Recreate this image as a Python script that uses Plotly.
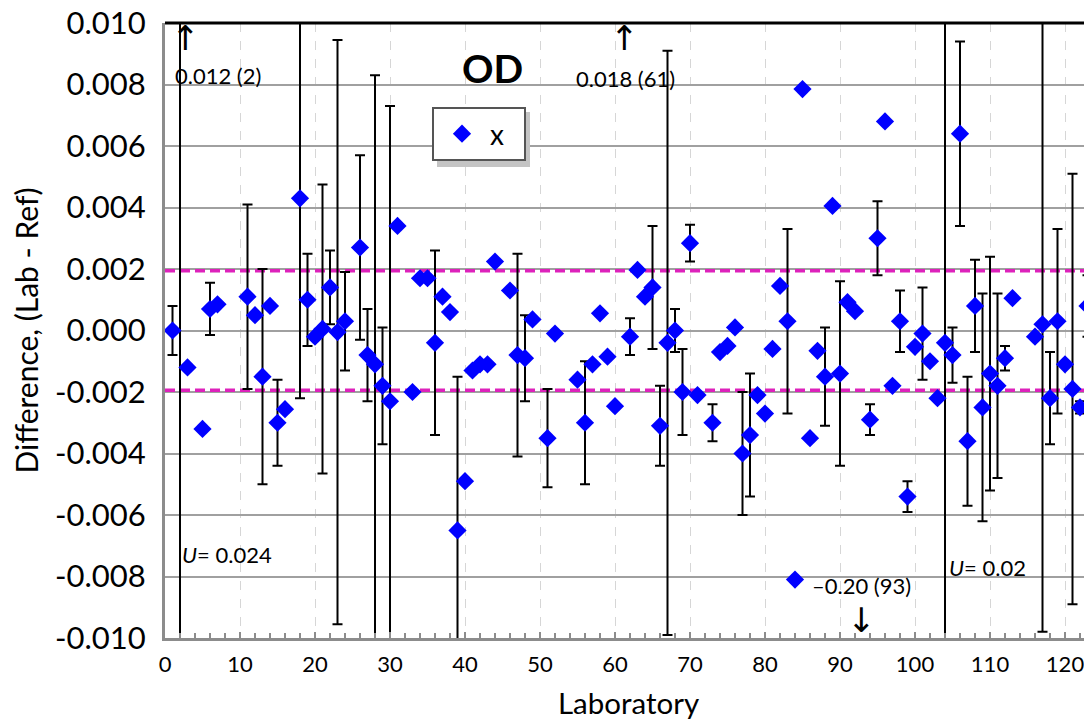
import plotly.graph_objects as go

# ---- data ----
labs = [1, 2, 3, 5, 6, 7, 11, 12, 13, 14, 15, 16, 18, 19, 20, 21, 22, 23, 24, 26,
        27, 28, 29, 30, 31, 33, 34, 35, 36, 37, 38, 39, 40, 41, 42, 43, 44, 46, 47, 48,
        49, 51, 52, 55, 56, 57, 58, 59, 60, 61, 62, 63, 64, 65, 66, 67, 68, 69, 70, 71,
        73, 74, 75, 76, 77, 78, 79, 80, 81, 82, 83, 84, 85, 86, 87, 88, 89, 90, 91, 92,
        93, 94, 95, 96, 97, 98, 99, 100, 101, 102, 103, 104, 105, 106, 107, 108, 109, 110, 111, 112,
        113, 116, 117, 118, 119, 120, 121, 122, 123]
diff = [0.0000, 0.012, -0.0012, -0.0032, 0.0007, 0.00085, 0.0011, 0.0005, -0.0015, 0.0008,
        -0.0030, -0.00256, 0.0043, 0.0010, -0.0002, 0.00005, 0.0014, -0.00005, 0.0003, 0.0027,
        -0.0008, -0.0011, -0.0018, -0.0023, 0.0034, -0.0020, 0.0017, 0.0017, -0.0004, 0.0011,
        0.0006, -0.0065, -0.0049, -0.0013, -0.0011, -0.0011, 0.00224, 0.0013, -0.0008, -0.0009,
        0.00036, -0.0035, -0.0001, -0.0016, -0.0030, -0.0011, 0.00056, -0.00085, -0.00246, 0.018,
        -0.0002, 0.00197, 0.0011, 0.0014, -0.0031, -0.0004, 0.0000, -0.0020, 0.00284, -0.0021,
        -0.0030, -0.0007, -0.0005, 0.0001, -0.0040, -0.0034, -0.0021, -0.0027, -0.0006, 0.00145,
        0.0003, -0.0081, 0.00785, -0.0035, -0.00066, -0.0015, 0.00405, -0.0014, 0.00092, 0.00063,
        -0.20, -0.0029, 0.0030, 0.0068, -0.0018, 0.0003, -0.0054, -0.00053, -0.0001, -0.0010,
        -0.0022, -0.0004, -0.0008, 0.0064, -0.0036, 0.0008, -0.0025, -0.0014, -0.0018, -0.0009,
        0.00105, -0.0002, 0.0002, -0.0022, 0.0003, -0.0011, -0.0019, -0.0025, 0.0008]
unc = [0.0008, 0.024, 0, 0, 0.00085, 0, 0.003, 0, 0.0035, 0,
       0.0014, 0, 0.0065, 0.0015, 0, 0.0047, 0.0012, 0.0095, 0.0016, 0.003,
       0.0015, 0.0094, 0.0019, 0.0096, 0, 0, 0, 0, 0.003, 0,
       0, 0.005, 0, 0, 0, 0, 0, 0, 0.0033, 0.0014,
       0, 0.0016, 0, 0, 0.002, 0, 0, 0, 0, 0,
       0.0006, 0, 0, 0.002, 0.0013, 0.0095, 0.0007, 0.0014, 0.0006, 0,
       0.0006, 0, 0, 0, 0.002, 0.002, 0, 0, 0, 0,
       0.003, 0, 0, 0, 0, 0.0016, 0, 0.003, 0, 0,
       0, 0.0005, 0.0012, 0, 0, 0.001, 0.0005, 0, 0.0015, 0,
       0, 0.02, 0.0009, 0.003, 0.0021, 0.0015, 0.0037, 0.0038, 0.003, 0.0004,
       0, 0, 0.01, 0.0015, 0.003, 0, 0.007, 0.0002, 0.001]
limit = 0.00194
y_ticks = [0.010, 0.008, 0.006, 0.004, 0.002, 0.000, -0.002, -0.004, -0.006, -0.008, -0.010]
y_tick_labels = ["0.010", "0.008", "0.006", "0.004", "0.002", "0.000",
                 "-0.002", "-0.004", "-0.006", "-0.008", "-0.010"]
x_ticks = [0, 10, 20, 30, 40, 50, 60, 70, 80, 90, 100, 110, 120]

FONT = "Lato"

fig = go.Figure()

# limit lines
for lv in (limit, -limit):
    fig.add_trace(go.Scatter(
        x=[0, 130], y=[lv, lv], mode="lines", showlegend=False, hoverinfo="skip",
        line=dict(color="#DD22BB", width=3.5, dash="10px,5px")))

fig.add_trace(go.Scatter(
    x=labs, y=diff, mode="markers", name="x",
    marker=dict(symbol="diamond", size=14, color="#0000FF"),
    error_y=dict(type="data", array=unc, visible=True, color="black",
                 thickness=2, width=5),
))

annots = [
    dict(x=2.7, y=0.0095, text="↑", font=dict(size=34, family="DejaVu Sans")),
    dict(x=7.1, y=0.0083, text="0.012 (2)", font=dict(size=22)),
    dict(x=43.7, y=0.00854, text="<b>OD</b>", font=dict(size=39)),
    dict(x=61.3, y=0.0095, text="↑", font=dict(size=34, family="DejaVu Sans")),
    dict(x=61.4, y=0.0082, text="0.018 (61)", font=dict(size=22)),
    dict(x=92.9, y=-0.0083, text="\u20130.20 (93)", font=dict(size=22)),
    dict(x=92.9, y=-0.0094, text="↓", font=dict(size=34, family="DejaVu Sans")),
    dict(x=8.3, y=-0.0073, text="<i>U</i>= 0.024", font=dict(size=22)),
    dict(x=109.6, y=-0.0077, text="<i>U</i>= 0.02", font=dict(size=22)),
]
for a in annots:
    f = dict(family=FONT, color="black")
    f.update(a["font"])
    fig.add_annotation(x=a["x"], y=a["y"], text=a["text"], showarrow=False,
                       font=f, xanchor="center", yanchor="middle")

# top border and legend shadow
fig.add_shape(type="line", xref="paper", yref="paper", x0=0, x1=1, y0=1, y1=1,
              line=dict(color="black", width=3), layer="above")
fig.add_shape(type="rect", xref="paper", yref="paper",
              x0=(437 - 165) / 927, x1=(530 - 165) / 927,
              y0=(638 - 167) / 615, y1=(638 - 112) / 615,
              fillcolor="#c4c4c4", line=dict(width=0), layer="above")

fig.update_layout(
    width=1084, height=712,
    margin=dict(l=157, r=0, t=15, b=82),
    paper_bgcolor="white", plot_bgcolor="white",
    font=dict(family=FONT, color="black"),
    showlegend=True,
    legend=dict(x=(432 - 165) / 927, y=(638 - 107) / 615, xanchor="left", yanchor="top",
                bgcolor="white", bordercolor="#555555", borderwidth=2,
                orientation="h", entrywidth=29, entrywidthmode="pixels",
                font=dict(size=28, family=FONT), itemwidth=46),
    xaxis=dict(range=[0, 927 / 7.5], tickvals=x_ticks, ticks="inside", ticklen=6,
               tickcolor="#8c8c8c", tickwidth=1.5,
               minor=dict(dtick=2, ticks="inside", ticklen=5, tickcolor="#8c8c8c",
                          tickwidth=1.5, showgrid=False),
               showgrid=True, gridcolor="#d6d6d6", griddash="dash", gridwidth=1,
               showline=True, linecolor="#8c8c8c", linewidth=3,
               zeroline=False, tickfont=dict(size=22), ticklabelstandoff=5,
               ticklabeloverflow="allow",
               title=dict(text="Laboratory", font=dict(size=29.5), standoff=18),
               automargin=False),
    yaxis=dict(range=[-0.010, 0.010], tickvals=y_ticks, ticktext=y_tick_labels,
               ticks="", showgrid=True, gridcolor="#a0a0a0", gridwidth=2,
               showline=True, linecolor="#8c8c8c", linewidth=3, zeroline=False,
               tickfont=dict(size=31), ticklabelstandoff=10,
               ticklabeloverflow="allow",
               title=dict(text="Difference, (Lab - Ref)", font=dict(size=30), standoff=24),
               automargin=False),
)

fig.write_html("out.html")
